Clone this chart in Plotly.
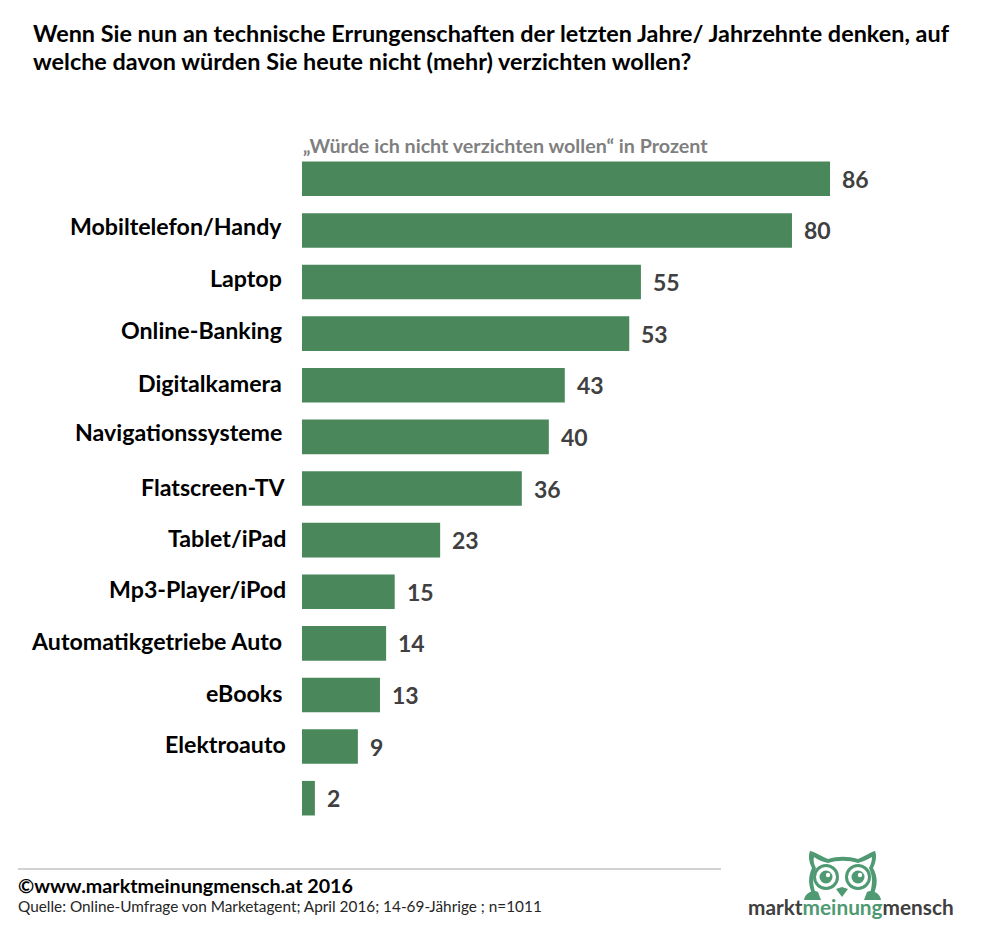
import plotly.graph_objects as go

W, H = 984, 929

labels = ["", "Mobiltelefon/Handy", "Laptop", "Online-Banking", "Digitalkamera",
          "Navigationssysteme", "Flatscreen-TV", "Tablet/iPad", "Mp3-Player/iPod",
          "Automatikgetriebe Auto", "eBooks", "Elektroauto", ""]
values = [86.0, 79.8, 55.2, 53.3, 42.8, 40.2, 35.8, 22.5, 15.1, 13.7, 12.7, 9.1, 2.1]
value_text = ["86", "80", "55", "53", "43", "40", "36", "23", "15", "14", "13", "9", "2"]

# kleine Versaetze der Beschriftungen wie im Original (Pixel)
label_dx = [0, -18, -18, -18, -18, -18, -14, -14, -14, -18, -18, -14, 0]
label_dy = [0, -4, -4, -4, -2, -5, -2, -2, -3, -2, -2, -3, 0]

GREEN = "#4A885C"
LOGO_GREEN = "#4F9A72"
DARK = "#404040"


def px(x):
    return x / W


def py(y):
    return 1 - y / H


def path(*parts):
    # Pfad in Bildpixeln -> paper Koordinaten
    out = []
    for p in parts:
        if isinstance(p, str):
            out.append(p)
        else:
            out.append(f"{px(p[0]):.5f},{py(p[1]):.5f}")
    return " ".join(out)


def circle(cx, cy, r, color):
    return dict(type="circle", xref="paper", yref="paper",
                x0=px(cx - r), x1=px(cx + r), y0=py(cy + r), y1=py(cy - r),
                fillcolor=color, line=dict(width=0), layer="above")


def text_at(x, y, text, size, color="black", anchor="left", weight="bold", family="Lato"):
    return dict(xref="paper", yref="paper", x=px(x), y=py(y), text=text, showarrow=False,
                xanchor=anchor, yanchor="middle", align=anchor,
                font=dict(family=family, size=size, color=color, weight=weight))


fig = go.Figure()
fig.add_trace(go.Bar(x=values, y=list(range(len(values))), orientation="h",
                     marker=dict(color=GREEN, line=dict(width=0)), hoverinfo="skip"))

annotations = [
    text_at(31, 33, "Wenn Sie nun an technische Errungenschaften der letzten Jahre/ Jahrzehnte denken, auf", 23.4),
    text_at(31, 61, "welche davon würden Sie heute nicht (mehr) verzichten wollen?", 23.4),
    text_at(301, 146, "„Würde ich nicht verzichten wollen“ in Prozent", 19.7, color="#7F7F7F"),
    text_at(16, 885, "©www.marktmeinungmensch.at 2016", 19.7),
    text_at(16, 906, "Quelle: Online-Umfrage von Marketagent; April 2016; 14-69-Jährige ; n=1011", 15.35,
            color="#262626", weight="normal"),
    text_at(850.5, 906, f"markt<span style='color:{LOGO_GREEN}'>meinung</span>mensch", 20.8,
            color=DARK, anchor="center"),
]

for i, (lab, val, txt) in enumerate(zip(labels, values, value_text)):
    annotations.append(dict(x=val, y=i, xref="x", yref="y", text=txt, showarrow=False,
                            xanchor="left", xshift=10, yshift=0,
                            font=dict(family="Lato", size=23, color=DARK, weight="bold")))
    if lab:
        annotations.append(dict(x=0, y=i, xref="x", yref="y", text=lab, showarrow=False,
                                xanchor="right", xshift=label_dx[i], yshift=-label_dy[i],
                                font=dict(family="Lato", size=23.2, color="black", weight="bold")))

# Eule aus dem Logo
owl = path("M", (813, 896), "C", (808, 885), (808, 877), (812, 868), "C", (809, 862), (808, 856), (810, 851),
           "C", (816, 852), (822, 857), (828, 859), "C", (838, 856), (848, 856), (858, 859),
           "C", (864, 857), (870, 852), (875, 851), "C", (877, 856), (876, 862), (873, 868),
           "C", (878, 877), (878, 885), (873, 896), "Z")
owl_inner = path("M", (817, 897), "L", (869, 897), "C", (873, 884), (873, 877), (869, 868),
                 "C", (871, 864), (872, 861), (872, 857), "C", (867, 860), (862, 862), (858, 863),
                 "C", (848, 860), (838, 860), (828, 863), "C", (823, 862), (818, 860), (814, 857),
                 "C", (813, 861), (814, 864), (816, 868), "C", (812, 877), (812, 884), (817, 897), "Z")
shapes = [
    dict(type="line", xref="paper", yref="paper", x0=px(18), x1=px(721), y0=py(869), y1=py(869),
         line=dict(color="#A6A6A6", width=1.2)),
    dict(type="path", xref="paper", yref="paper", path=owl, fillcolor=LOGO_GREEN, line=dict(width=0), layer="above"),
    dict(type="path", xref="paper", yref="paper", path=owl_inner, fillcolor="white", line=dict(width=0), layer="above"),
]
for cx in (826, 858):
    shapes += [circle(cx, 877, 13, LOGO_GREEN), circle(cx, 877, 10, "white"),
               circle(cx, 877, 6.5, LOGO_GREEN), circle(cx + 2, 875, 2.2, "white")]
# Schnabel und Fluegel
shapes += [
    dict(type="path", xref="paper", yref="paper", layer="above", fillcolor=LOGO_GREEN, line=dict(width=0),
         path=path("M", (836, 889), "L", (842, 887), "L", (848, 889), "L", (842, 897), "Z")),
    dict(type="path", xref="paper", yref="paper", layer="above", fillcolor=LOGO_GREEN, line=dict(width=0),
         path=path("M", (804, 900), "C", (805, 893), (813, 889), (818, 892), "L", (821, 900), "Z")),
    dict(type="path", xref="paper", yref="paper", layer="above", fillcolor=LOGO_GREEN, line=dict(width=0),
         path=path("M", (864, 900), "L", (867, 892), "C", (872, 889), (880, 893), (881, 900), "Z")),
]

fig.update_layout(
    width=W, height=H, showlegend=False, plot_bgcolor="white", paper_bgcolor="white",
    margin=dict(l=0, r=0, t=0, b=0), bargap=0.33,
    xaxis=dict(domain=[302 / W, 916 / W], range=[0, 100], visible=False, fixedrange=True),
    yaxis=dict(domain=[1 - 824 / H, 1 - 153 / H], range=[12.5, -0.5], visible=False, fixedrange=True),
    annotations=annotations, shapes=shapes,
)

# Seitenrand vom body weg, sonst ist alles um 8px verschoben
fig.write_html("out.html", config={"displayModeBar": False},
               post_script="document.body.style.margin='0';")
